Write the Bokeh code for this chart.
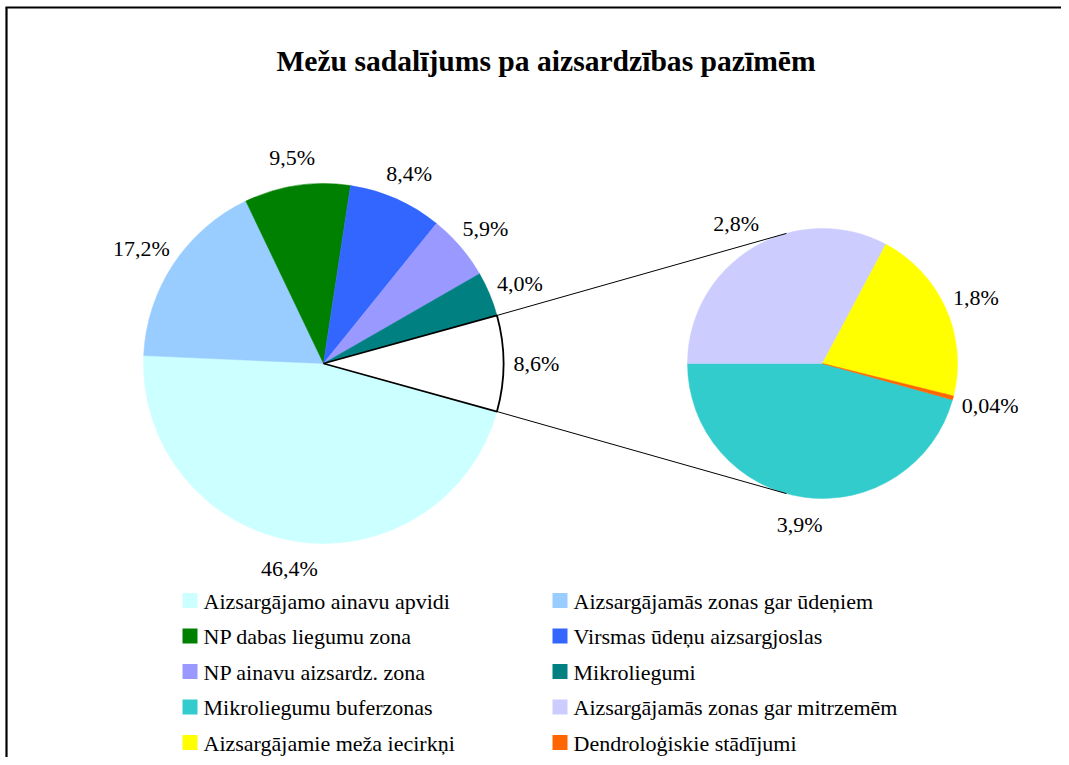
import numpy as np
from bokeh.plotting import figure
from bokeh.models import Range1d, ColumnDataSource
from bokeh.core.properties import value
from bokeh.embed import file_html
from bokeh.resources import INLINE

# ---------------- data ----------------
title_text = "Mežu sadalījums pa aizsardzības pazīmēm"
categories = [
    "Aizsargājamo ainavu apvidi",
    "Aizsargājamās zonas gar ūdeņiem",
    "NP dabas liegumu zona",
    "Virsmas ūdeņu aizsargjoslas",
    "NP ainavu aizsardz. zona",
    "Mikroliegumi",
    "Mikroliegumu buferzonas",
    "Aizsargājamās zonas gar mitrzemēm",
    "Aizsargājamie meža iecirkņi",
    "Dendroloģiskie stādījumi",
]
colors = ["#CCFFFF", "#99CCFF", "#008000", "#3366FF", "#9999FF", "#008080",
          "#33CCCC", "#CCCCFF", "#FFFF00", "#FF6600"]
main_values = [46.4, 17.2, 9.5, 8.4, 5.9, 4.0]
main_labels = ["46,4%", "17,2%", "9,5%", "8,4%", "5,9%", "4,0%"]
other_value = 8.6
other_label = "8,6%"
second_values = [3.9, 2.8, 1.8, 0.04]
second_labels = ["3,9%", "2,8%", "1,8%", "0,04%"]

# ---------------- layout (screen pixels -> data) ----------------
W, H = 1061, 757
def px(xp):
    return xp
def py(yp):
    return H - yp

FONT = value("Liberation Serif")
LAB_SIZE = 22
main_c = (px(323), py(363)); main_r = 180
sec_c = (px(822), py(363)); sec_r = 135

def text_w(s, size):
    em = {",": 0.25, "%": 0.833}
    return sum(em.get(ch, 0.5) for ch in s) * size

def label_pos(c, r, ang, s):
    w = text_w(s, LAB_SIZE)
    cx = c[0] + r * np.cos(ang) + np.cos(ang) * (w / 2 + 10)
    cy = c[1] + r * np.sin(ang) + np.sin(ang) * 28
    return cx, cy

p = figure(width=W, height=H, x_range=Range1d(0, W), y_range=Range1d(0, H),
           output_backend="svg", toolbar_location=None,
           x_axis_location=None, y_axis_location=None, min_border=0)
p.grid.visible = False
p.outline_line_color = None
p.background_fill_color = "white"
p.border_fill_color = "white"

# ---------------- main pie ----------------
total = sum(main_values) + other_value
theta_o = other_value / total * 2 * np.pi
a = -theta_o / 2
starts, ends = [], []
for v in main_values:
    t = v / total * 2 * np.pi
    starts.append(a - t); ends.append(a)
    a -= t
main_src = ColumnDataSource(dict(start=starts, end=ends, color=colors[:6]))
p.wedge(x=main_c[0], y=main_c[1], radius=main_r, start_angle="start", end_angle="end",
        fill_color="color", line_color="color", line_width=0.5, source=main_src)
p.wedge(x=main_c[0], y=main_c[1], radius=main_r, start_angle=-theta_o / 2, end_angle=theta_o / 2,
        fill_color="white", line_color="black", line_width=1.8)

mids = list((np.array(starts) + np.array(ends)) / 2) + [0.0]
mlabels = main_labels + [other_label]
mpos = [label_pos(main_c, main_r, m, s) for m, s in zip(mids, mlabels)]
p.text(x=[q[0] for q in mpos], y=[q[1] for q in mpos], text=mlabels, text_font=FONT,
       text_font_size=f"{LAB_SIZE}px", text_align="center", text_baseline="middle",
       text_color="black")

# ---------------- secondary pie ----------------
stotal = sum(second_values)
sth = [v / stotal * 2 * np.pi for v in second_values]
a = np.pi + sth[0]
sstarts, sends = [], []
for t in sth:
    sstarts.append(a - t); sends.append(a)
    a -= t
sec_src = ColumnDataSource(dict(start=sstarts, end=sends, color=colors[6:]))
p.wedge(x=sec_c[0], y=sec_c[1], radius=sec_r, start_angle="start", end_angle="end",
        fill_color="color", line_color="color", line_width=0.5, source=sec_src)
smids = (np.array(sstarts) + np.array(sends)) / 2
spos = [label_pos(sec_c, sec_r, m, s) for m, s in zip(smids, second_labels)]
p.text(x=[q[0] for q in spos], y=[q[1] for q in spos], text=second_labels, text_font=FONT,
       text_font_size=f"{LAB_SIZE}px", text_align="center", text_baseline="middle",
       text_color="black")

# ---------------- connector lines ----------------
conn = np.deg2rad(105.5)
x0 = [main_c[0] + main_r * np.cos(theta_o / 2), main_c[0] + main_r * np.cos(-theta_o / 2)]
y0 = [main_c[1] + main_r * np.sin(theta_o / 2), main_c[1] + main_r * np.sin(-theta_o / 2)]
x1 = [sec_c[0] + sec_r * np.cos(conn), sec_c[0] + sec_r * np.cos(-conn)]
y1 = [sec_c[1] + sec_r * np.sin(conn), sec_c[1] + sec_r * np.sin(-conn)]
p.segment(x0=x0, y0=y0, x1=x1, y1=y1, line_color="black", line_width=1)

# ---------------- title ----------------
p.text(x=[px(545.5)], y=[py(60)], text=[title_text], text_font=FONT, text_font_size="29.6px",
       text_font_style="bold", text_align="center", text_baseline="alphabetic", text_color="black")

# ---------------- legend ----------------
row_y = [600, 635.5, 671, 706.5, 742]
col_sq = [189.5, 559.5]
col_tx = [203, 573]
sq_x = [px(col_sq[i % 2]) for i in range(len(categories))]
sq_y = [py(row_y[i // 2]) for i in range(len(categories))]
tx_x = [px(col_tx[i % 2]) for i in range(len(categories))]
p.rect(x=sq_x, y=sq_y, width=15, height=15, fill_color=colors, line_color=None)
p.text(x=tx_x, y=[y - 0.5 for y in sq_y], text=categories, text_font=FONT, text_font_size="22px",
       text_align="left", text_baseline="middle", text_color="black")

# ---------------- frame ----------------
p.segment(x0=[px(5), px(6)], y0=[py(7), py(7)], x1=[W, px(6)], y1=[py(7), 0],
          line_color="black", line_width=2.2)

open("out.html", "w").write(file_html(p, INLINE))
